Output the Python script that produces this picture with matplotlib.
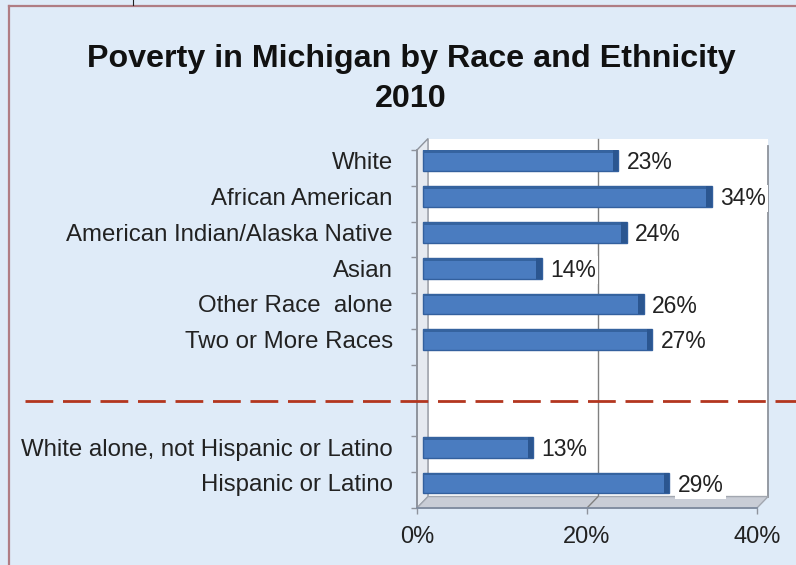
import matplotlib
matplotlib.use("Agg")
import matplotlib.pyplot as plt
import matplotlib.transforms as mtransforms
from matplotlib.patches import Polygon
from matplotlib.lines import Line2D

plt.rcParams['font.family'] = ['Liberation Sans', 'DejaVu Sans']
plt.rcParams['lines.scale_dashes'] = False

categories = ["White", "African American", "American Indian/Alaska Native",
              "Asian", "Other Race  alone", "Two or More Races",
              "White alone, not Hispanic or Latino", "Hispanic or Latino"]
values = [23, 34, 24, 14, 26, 27, 13, 29]
slots = [0, 1, 2, 3, 4, 5, 8, 9]
xticks = [0, 20, 40]
xtick_labels = ["0%", "20%", "40%"]
title = "Poverty in Michigan by Race and Ethnicity"
subtitle = "2010"

bg = "#dfebf8"
bar_col = "#4a7cc0"
bar_edge = "#33609e"
cap_col = "#2b5690"
wall_edge = "#8e939c"

W, H = 796, 565
fig = plt.figure(figsize=(W / 100, H / 100), dpi=100, facecolor=bg)

# frame (only left/top edges fall inside the picture)
fig.add_artist(Line2D([8.5 / W, 8.5 / W], [0, 1 - 5.5 / H], color="#b07d84", lw=1.6))
fig.add_artist(Line2D([8.5 / W, 1], [1 - 5.5 / H, 1 - 5.5 / H], color="#b07d84", lw=1.6))
fig.add_artist(Line2D([133 / W, 133 / W], [1 - 5 / H, 1], color="#222222", lw=0.8))

fig.text(411 / W, 1 - 67 / H, title, ha="center", va="baseline",
         fontsize=23.2, fontweight="bold", color="#111111")
fig.text(411 / W, 1 - 107 / H, subtitle, ha="center", va="baseline",
         fontsize=23.2, fontweight="bold", color="#111111")

ax = fig.add_axes([417 / W, 1 - 508 / H, 340 / W, 358 / H])
ax.set_xlim(0, 40)
ax.set_ylim(9.5, -0.5)
ax.patch.set_visible(False)
for s in ax.spines.values():
    s.set_visible(False)

dx, dy = 1.3, -0.32  # depth offset of the 3D box
top, bot = -0.5, 9.5

# back wall
ax.add_patch(Polygon([(dx, top + dy), (40 + dx, top + dy), (40 + dx, bot + dy), (dx, bot + dy)],
                     closed=True, facecolor="white", edgecolor="none", clip_on=False, zorder=0))
ax.plot([40 + dx, 40 + dx], [top + dy + 0.2, bot + dy], color=wall_edge, lw=1.3, clip_on=False, zorder=1)
ax.plot([20 + dx, 20 + dx], [top + dy, bot + dy], color="#808080", lw=1.0, clip_on=False, zorder=1)
ax.plot([20 + dx, 20], [bot + dy, bot], color="#808080", lw=1.0, clip_on=False, zorder=2)
# left wall
ax.add_patch(Polygon([(0, top), (dx, top + dy), (dx, bot + dy), (0, bot)], closed=True,
                     facecolor="#e6eaf0", edgecolor=wall_edge, lw=1.0, clip_on=False, zorder=1))
# floor
ax.add_patch(Polygon([(0, bot), (dx, bot + dy), (40 + dx, bot + dy), (40, bot)], closed=True,
                     facecolor="#c9cdd6", edgecolor="#a2a7b0", lw=1.0, clip_on=False, zorder=1))
ax.plot([0, 0], [top, bot], color=wall_edge, lw=1.3, clip_on=False, zorder=3)
ax.plot([0, 40], [bot, bot], color="#7f8ca0", lw=1.3, clip_on=False, zorder=3)

# bars
pos = [s + dy / 2 - 0.04 for s in slots]
h = 0.58
ax.barh(pos, values, left=dx / 2, height=h, color=bar_col, edgecolor=bar_edge, lw=1.0, zorder=4)
ax.barh([p - h / 2 + 0.04 for p in pos], values, left=dx / 2, height=0.08,
        color="#35639f", lw=0, zorder=5)
ax.barh(pos, [0.6] * len(values), left=[v + dx / 2 - 0.6 for v in values], height=h,
        color=cap_col, lw=0, zorder=5)

for p, v in zip(pos, values):
    ax.text(v + dx / 2 + 1.0, p + 0.06, f"{v}%", va="center", ha="left", fontsize=16.5,
            color="#222222", zorder=6,
            bbox=dict(boxstyle="square,pad=0.1", facecolor="white", edgecolor="none"))

ax.set_yticks(pos, categories)
ax.set_yticks([b - 0.5 for b in range(11)], minor=True)
ax.tick_params(axis="y", which="major", length=0, pad=17.5, labelsize=17.3, labelcolor="#222222")
ax.tick_params(axis="y", which="minor", length=4, width=1, color=wall_edge)
ax.set_xticks(xticks, xtick_labels)
ax.tick_params(axis="x", length=4, width=1, color=wall_edge, pad=9, labelsize=17, labelcolor="#222222")

# separator between race and ethnicity groups
trans = mtransforms.blended_transform_factory(fig.transFigure, ax.transData)
sep = Line2D([25 / W, 1.0], [6.5, 6.5], transform=trans, color="#b3361f", lw=2.0,
             dashes=(20, 7), zorder=7)
fig.add_artist(sep)

fig.savefig("out.png", dpi=100, facecolor=bg)
